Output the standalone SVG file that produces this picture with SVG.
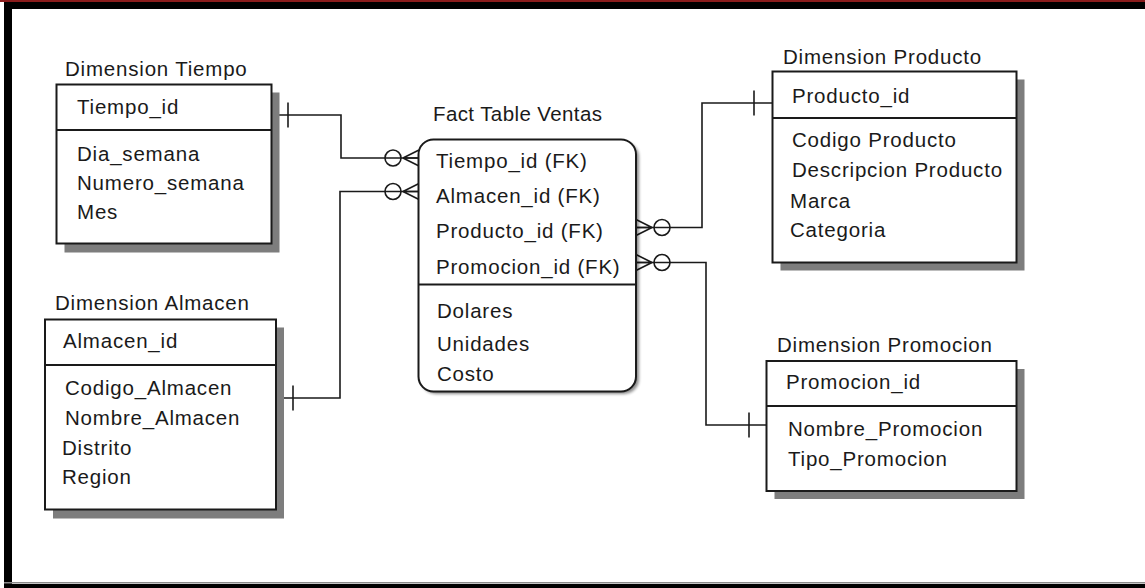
<svg xmlns="http://www.w3.org/2000/svg" width="1145" height="588" viewBox="0 0 1145 588">
  <style>
    text { font-family: "Liberation Sans", Arial, sans-serif; font-size: 20.5px; letter-spacing: 0.8px; fill: #1a1a1a; }
    .tight { letter-spacing: 0.4px; }
    .box { fill: #ffffff; stroke: #1a1a1a; stroke-width: 2; }
    .shadow { fill: #7d7d7d; }
    .div { stroke: #1a1a1a; stroke-width: 2; }
    .conn { fill: none; stroke: #1a1a1a; stroke-width: 1.6; }
  </style>
  <defs>
    <!-- zero-or-many end: entity edge at x=0, line arrives from the left -->
    <g id="zeroMany" class="conn">
      <path d="M-16,0 L0,-8 M-16,0 L0,0 M-16,0 L0,8"/>
      <circle cx="-26" cy="0" r="8"/>
    </g>
    <!-- exactly-one bar -->
    <path id="oneBar" d="M0,-12.5 V12.5" class="conn"/>
    <filter id="soft" x="-5%" y="-5%" width="115%" height="115%">
      <feGaussianBlur stdDeviation="1.5"/>
    </filter>
  </defs>

  <!-- page frame -->
  <rect x="0" y="0" width="1145" height="588" fill="#ffffff"/>
  <rect x="0" y="0" width="1145" height="2" fill="#8b1c1c"/>
  <rect x="4" y="2" width="1141" height="7" fill="#000000"/>
  <rect x="4" y="2" width="8" height="586" fill="#000000"/>
  <rect x="4" y="582" width="1141" height="1.5" fill="#8a8a8a"/>
  <rect x="4" y="584" width="1141" height="4" fill="#000000"/>

  <!-- relationships -->
  <g id="connectors">
    <path class="conn" d="M272,115 H341 V158 H419"/>
    <path class="conn" d="M276,398 H340 V191.5 H419"/>
    <path class="conn" d="M636,227.5 H702 V103 H772"/>
    <path class="conn" d="M636,262.5 H706 V425 H767"/>
    <use href="#zeroMany" transform="translate(419,158)"/>
    <use href="#zeroMany" transform="translate(419,191.5)"/>
    <use href="#zeroMany" transform="translate(636,227.5) scale(-1,1)"/>
    <use href="#zeroMany" transform="translate(636,262.5) scale(-1,1)"/>
    <use href="#oneBar" transform="translate(288,115)"/>
    <use href="#oneBar" transform="translate(293,398)"/>
    <use href="#oneBar" transform="translate(754,103)"/>
    <use href="#oneBar" transform="translate(749,425)"/>
  </g>

  <g id="dim-tiempo">
    <text x="65" y="76">Dimension Tiempo</text>
    <rect class="shadow" x="64.5" y="92.5" width="215" height="160"/>
    <rect class="box" x="56.5" y="84.5" width="215" height="159"/>
    <line class="div" x1="56.5" y1="130" x2="271.5" y2="130"/>
    <text x="77" y="114">Tiempo_id</text>
    <text x="77" y="161">Dia_semana</text>
    <text x="77" y="190">Numero_semana</text>
    <text x="77" y="219">Mes</text>
  </g>

  <g id="dim-almacen">
    <text x="55" y="310">Dimension Almacen</text>
    <rect class="shadow" x="53" y="327.5" width="231" height="191"/>
    <rect class="box" x="45" y="319.5" width="231" height="190"/>
    <line class="div" x1="45" y1="365" x2="276" y2="365"/>
    <text x="63" y="348">Almacen_id</text>
    <text x="65" y="395">Codigo_Almacen</text>
    <text x="65" y="425">Nombre_Almacen</text>
    <text x="62" y="455">Distrito</text>
    <text x="62" y="484">Region</text>
  </g>

  <g id="fact-ventas">
    <text class="tight" x="433" y="121">Fact Table Ventas</text>
    <rect x="421" y="142" width="218" height="252" rx="15" fill="#000000" opacity="0.45" filter="url(#soft)"/>
    <rect class="box" x="418.5" y="139.5" width="217.5" height="252" rx="15"/>
    <line class="div" x1="418.5" y1="284.5" x2="636" y2="284.5"/>
    <text x="436" y="168">Tiempo_id (FK)</text>
    <text x="436" y="203">Almacen_id (FK)</text>
    <text x="436" y="238">Producto_id (FK)</text>
    <text x="436" y="274">Promocion_id (FK)</text>
    <text x="437" y="318">Dolares</text>
    <text x="437" y="351">Unidades</text>
    <text x="437" y="381">Costo</text>
  </g>

  <g id="dim-producto">
    <text x="783" y="64">Dimension Producto</text>
    <rect class="shadow" x="780.5" y="79.5" width="244" height="191"/>
    <rect class="box" x="772.5" y="71.5" width="244" height="191"/>
    <line class="div" x1="772.5" y1="118" x2="1016.5" y2="118"/>
    <text x="792" y="103">Producto_id</text>
    <text x="792" y="147">Codigo Producto</text>
    <text x="792" y="177">Descripcion Producto</text>
    <text x="790" y="208">Marca</text>
    <text x="790" y="237">Categoria</text>
  </g>

  <g id="dim-promocion">
    <text x="777" y="352">Dimension Promocion</text>
    <rect class="shadow" x="774.5" y="369" width="250" height="130"/>
    <rect class="box" x="766.5" y="361" width="250" height="130"/>
    <line class="div" x1="766.5" y1="406" x2="1016.5" y2="406"/>
    <text x="786" y="389">Promocion_id</text>
    <text x="788" y="436">Nombre_Promocion</text>
    <text x="788" y="466">Tipo_Promocion</text>
  </g>
</svg>
